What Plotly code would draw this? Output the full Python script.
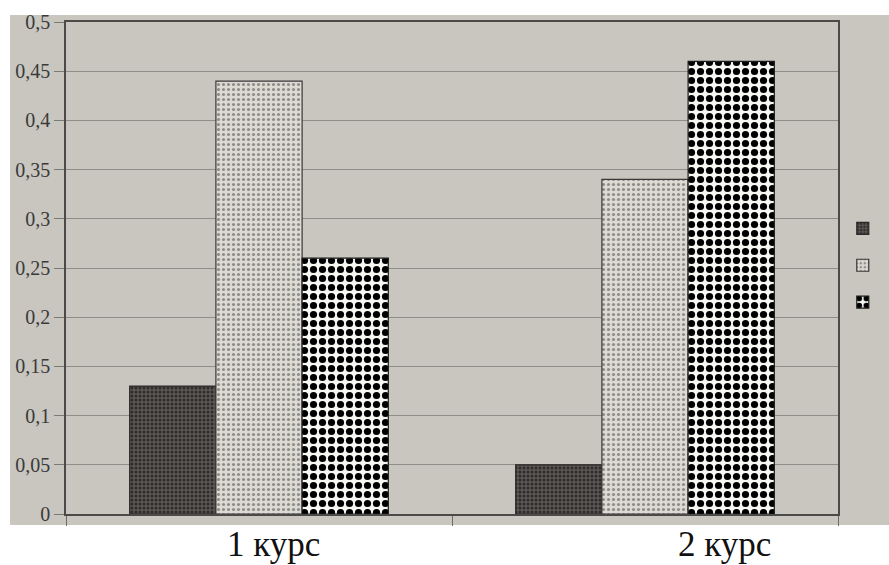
import plotly.graph_objects as go

categories = ["1 курс", "2 курс"]
series_a = [0.13, 0.05]
series_b = [0.44, 0.34]
series_c = [0.26, 0.46]
tick_vals = [0, 0.05, 0.1, 0.15, 0.2, 0.25, 0.3, 0.35, 0.4, 0.45, 0.5]
tick_text = ["0", "0,05", "0,1", "0,15", "0,2", "0,25", "0,3", "0,35", "0,4", "0,45", "0,5"]

SERIF = "Liberation Serif, serif"

fig = go.Figure()
fig.add_trace(go.Bar(
    x=categories, y=series_a, name=" ",
    marker=dict(color="#5b5856", line=dict(color="#2a2828", width=1.2),
                pattern=dict(shape=".", fgcolor="#2e2c2b", size=4, solidity=0.45,
                             fgopacity=1)),
))
fig.add_trace(go.Bar(
    x=categories, y=series_b, name=" ",
    marker=dict(color="#dcdad3", line=dict(color="#3a3838", width=1.2),
                pattern=dict(shape=".", fgcolor="#8e8c88", size=5, solidity=0.3,
                             fgopacity=1)),
))
fig.add_trace(go.Bar(
    x=categories, y=series_c, name=" ",
    marker=dict(color="#f6f6f2", line=dict(color="#1a1a1a", width=1.2),
                pattern=dict(shape=".", fgcolor="#000000", size=9, solidity=0.5,
                             fgopacity=1)),
))

# photographed paper background
fig.add_shape(type="rect", xref="paper", yref="paper",
              x0=-0.0725, x1=1.07, y0=-0.0224, y1=1.0142,
              fillcolor="#c8c6bf", line=dict(width=0), layer="below")

for cat, shift in zip(categories, [14, 79]):
    fig.add_annotation(x=cat, y=-0.063, xref="x", yref="paper", text=cat,
                       showarrow=False, xshift=shift, yanchor="middle",
                       font=dict(family=SERIF, size=35, color="#111111"))

fig.update_layout(
    width=889, height=565,
    margin=dict(l=66, r=51, t=22, b=51, autoexpand=False),
    paper_bgcolor="white",
    plot_bgcolor="rgba(0,0,0,0)",
    barmode="group", bargap=0.33, bargroupgap=0,
    showlegend=True,
    legend=dict(xref="container", yref="container", x=0.948, y=0.53,
                xanchor="left", yanchor="middle",
                bgcolor="rgba(0,0,0,0)", font=dict(size=26, family=SERIF),
                itemwidth=30),
    font=dict(family=SERIF, color="#333333"),
)
fig.update_xaxes(showticklabels=False, showline=True, mirror=True, linecolor="#4a4a48",
                 linewidth=1.5, ticks="outside", tickson="boundaries", ticklen=10,
                 tickcolor="#6a6a66", showgrid=False)
fig.update_yaxes(range=[0, 0.5], tickvals=tick_vals, ticktext=tick_text,
                 showline=True, mirror=True, linecolor="#4a4a48", linewidth=1.5,
                 ticks="outside", ticklen=10, tickcolor="#7a7a76",
                 gridcolor="#8e8d88", gridwidth=1, zeroline=False,
                 tickfont=dict(size=20, family=SERIF, color="#3a3a3a"))

fig.write_html("out.html")
